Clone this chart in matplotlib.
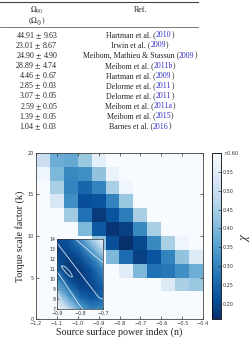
import matplotlib
matplotlib.use('Agg')
import matplotlib.pyplot as plt
import numpy as np

plt.rcParams['mathtext.fontset'] = 'stix'
plt.rcParams['axes.unicode_minus'] = True

# Tabla de periodos de rotacion
omega_90 = ['44.91', '23.01', '24.90', '28.89', '4.46', '2.85', '3.07', '2.59', '1.39', '1.04']
omega_err = ['9.63', '8.67', '4.90', '4.74', '0.67', '0.03', '0.05', '0.05', '0.05', '0.03']
ref_names = ['Hartman et al.', 'Irwin et al.', 'Meibom, Mathieu & Stassun', 'Meibom et al.',
             'Hartman et al.', 'Delorme et al.', 'Delorme et al.', 'Meibom et al.',
             'Meibom et al.', 'Barnes et al.']
ref_years = ['2010', '2009', '2009', '2011b', '2009', '2011', '2011', '2011a', '2015', '2016']

# Mapa de chi (fila superior primero, k de 20 a 0), 0.65 = ">0.60"
n_edges = np.linspace(-1.2, -0.4, 13)
k_edges = np.linspace(0, 20, 13)
W = 0.65
chi_rows = [
    [0.50, 0.38, 0.37, 0.43, 0.56, W, W, W, W, W, W, W],
    [0.58, 0.40, 0.31, 0.32, 0.42, 0.57, W, W, W, W, W, W],
    [W, 0.45, 0.30, 0.25, 0.30, 0.45, 0.58, W, W, W, W, W],
    [W, 0.53, 0.32, 0.21, 0.22, 0.30, 0.43, W, W, W, W, W],
    [W, W, 0.44, 0.27, 0.18, 0.22, 0.29, 0.45, W, W, W, W],
    [W, W, W, 0.40, 0.23, 0.17, 0.19, 0.31, 0.45, W, W, W],
    [W, W, W, W, 0.42, 0.21, 0.16, 0.20, 0.31, 0.45, 0.58, W],
    [W, W, W, W, W, 0.40, 0.26, 0.19, 0.22, 0.30, 0.42, 0.54],
    [W, W, W, W, W, W, 0.55, 0.40, 0.27, 0.28, 0.32, 0.38],
    [W, W, W, W, W, W, W, W, W, 0.54, 0.45, 0.43],
    [W, W, W, W, W, W, W, W, W, W, W, W],
    [W, W, W, W, W, W, W, W, W, W, W, W],
]
cbar_ticks = [0.20, 0.25, 0.30, 0.35, 0.40, 0.45, 0.50, 0.55, 0.60]
cbar_labels = ['0.20', '0.25', '0.30', '0.35', '0.40', '0.45', '0.50', '0.55', '>0.60']

# Inset (zoom del minimo)
inset_n = [-0.9, -0.85, -0.8, -0.75, -0.7]
inset_k = [14, 13, 12, 11, 10, 9, 8, 7]
inset_field = [
    [0.10, 0.15, 0.35, 0.65, 0.95],
    [0.08, 0.10, 0.22, 0.45, 0.75],
    [0.12, 0.05, 0.10, 0.28, 0.50],
    [0.20, 0.03, 0.05, 0.15, 0.35],
    [0.35, 0.10, 0.05, 0.10, 0.25],
    [0.55, 0.28, 0.10, 0.08, 0.18],
    [0.80, 0.50, 0.25, 0.15, 0.22],
    [1.00, 0.75, 0.45, 0.32, 0.35],
]
# contornos (n, k)
cont_inner_n = [-0.878, -0.868, -0.856, -0.845, -0.836, -0.833, -0.835, -0.842, -0.853, -0.864, -0.874, -0.880, -0.878]
cont_inner_k = [11.30, 11.28, 11.05, 10.78, 10.45, 10.24, 10.20, 10.22, 10.45, 10.72, 11.00, 11.22, 11.30]
cont_mid_up_n = [-0.9, -0.86, -0.82, -0.78, -0.75, -0.73, -0.72, -0.71, -0.70]
cont_mid_up_k = [13.6, 12.4, 11.2, 10.0, 9.1, 8.5, 8.2, 8.05, 8.0]
cont_mid_lo_n = [-0.9, -0.87, -0.84, -0.81, -0.79]
cont_mid_lo_k = [10.75, 9.75, 8.7, 7.65, 7.0]
cont_out_up_n = [-0.82, -0.79, -0.76, -0.73, -0.70]
cont_out_up_k = [14.0, 13.4, 12.8, 12.2, 11.65]
cont_out_lo_n = [-0.9, -0.885, -0.872, -0.865]
cont_out_lo_k = [8.7, 8.1, 7.5, 7.0]

fig = plt.figure(figsize=(2.51, 3.43), dpi=100)

# ---- Tabla ----
tab = fig.add_axes([0, 0, 1, 1], zorder=-1)
tab.set_xlim(0, 251)
tab.set_ylim(343, 0)
tab.axis('off')
serif = 'Liberation Serif'
fs_tab = 5.7
txt_col = '#222222'
link_col = '#3232c8'

tab.axhline(2, xmin=0, xmax=198 / 251, color='#444444', lw=0.8)
tab.axhline(27, xmin=0, xmax=198 / 251, color='#444444', lw=0.5)
tab.text(37, 10, r'$\Omega_{90}$', ha='center', va='center', fontsize=fs_tab, color=txt_col)
tab.text(37, 21, r'$(\Omega_{\odot})$', ha='center', va='center', fontsize=fs_tab, color=txt_col)
tab.text(140, 10.5, 'Ref.', ha='center', va='center', fontsize=fs_tab, color=txt_col, family=serif)

r = fig.canvas.get_renderer()


def ancho(s):
    t = tab.text(0, 0, s, fontsize=fs_tab, family=serif)
    w = t.get_window_extent(renderer=r).width
    t.remove()
    return w


def avance(s):
    # avance real del texto (con un caracter testigo al final)
    return ancho(s + '|') - ancho('|')


for i in range(len(omega_90)):
    y = 35.3 + i * 10.15
    tab.text(58, y, f'{omega_90[i]} $\\pm$ {omega_err[i]}', ha='right', va='center',
             fontsize=fs_tab, color=txt_col, family=serif)
    p1 = ref_names[i] + ' ('
    a1 = avance(p1)
    a2 = avance(p1 + ref_years[i])
    total = a2 + ancho(')')
    x0 = 140 - total / 2
    tab.text(x0, y, p1, ha='left', va='center', fontsize=fs_tab, color=txt_col, family=serif)
    tab.text(x0 + a1, y, ref_years[i], ha='left', va='center', fontsize=fs_tab, color=link_col, family=serif)
    tab.text(x0 + a2, y, ')', ha='left', va='center', fontsize=fs_tab, color=txt_col, family=serif)

# ---- Mapa ----
ax = fig.add_axes([36 / 251, 1 - 319 / 343, 167 / 251, 166 / 343])
mesh = ax.pcolormesh(n_edges, k_edges, np.array(chi_rows)[::-1], cmap='Blues_r', vmin=0.16, vmax=0.60)
ax.set_xlim(-1.2, -0.4)
ax.set_ylim(0, 20)
ax.set_xticks(np.arange(-1.2, -0.35, 0.1))
ax.set_yticks([0, 5, 10, 15, 20])
ax.tick_params(direction='in', top=True, right=True, length=2.5, width=0.5,
               labelsize=3.6, pad=1.5, colors='#333333')
for s in ax.spines.values():
    s.set_linewidth(0.6)
    s.set_color('#444444')
ax.set_xlabel('Source surface power index (n)', family=serif, fontsize=7.2, labelpad=1, color=txt_col)
ax.set_ylabel('Torque scale factor (k)', family=serif, fontsize=7.2, labelpad=2, color=txt_col)

cax = fig.add_axes([212 / 251, 1 - 319 / 343, 9 / 251, 166 / 343])
cb = fig.colorbar(mesh, cax=cax, ticks=cbar_ticks)
cb.ax.set_yticklabels(cbar_labels)
cb.ax.tick_params(direction='in', length=2, width=0.5, labelsize=3.5, pad=1.5, colors='#333333')
cb.outline.set_linewidth(0.6)
fig.text(245.5 / 251, 1 - 237 / 343, r'$\chi$', rotation=90, ha='center', va='center', fontsize=9, color=txt_col)

# ---- Inset ----
axi = fig.add_axes([57 / 251, 1 - 309 / 343, 46 / 251, 70 / 343])
axi.pcolormesh(inset_n, inset_k, np.array(inset_field), shading='gouraud', cmap='Blues_r', vmin=0, vmax=1)
ccol = '#d6e6f5'
for cn, ck in [(cont_inner_n, cont_inner_k), (cont_mid_up_n, cont_mid_up_k), (cont_mid_lo_n, cont_mid_lo_k),
               (cont_out_up_n, cont_out_up_k), (cont_out_lo_n, cont_out_lo_k)]:
    axi.plot(cn, ck, color=ccol, lw=0.6)
axi.set_xlim(-0.9, -0.7)
axi.set_ylim(7, 14)
axi.set_xticks([-0.9, -0.8, -0.7])
axi.set_yticks(range(7, 15))
axi.tick_params(direction='in', length=1.5, width=0.4, labelsize=3.4, pad=1, colors='#333333')
axi.tick_params(axis='x', pad=1.5)
for s in axi.spines.values():
    s.set_linewidth(0.5)
    s.set_color('#333333')

fig.savefig('out.png', dpi=100)
